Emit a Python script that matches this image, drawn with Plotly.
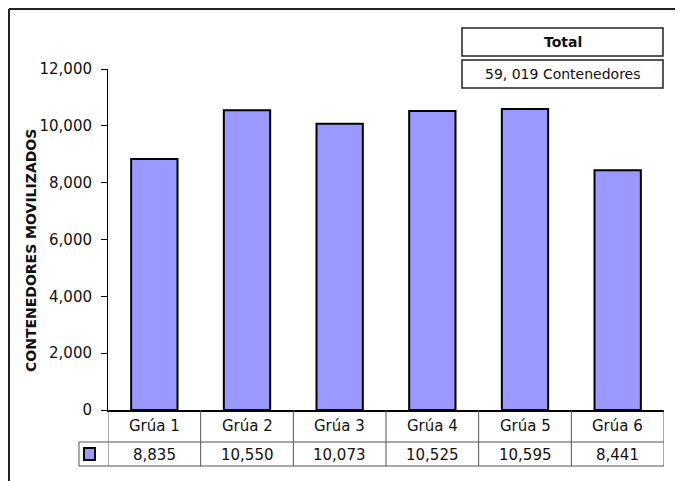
import plotly.graph_objects as go

categories = ["Grúa 1", "Grúa 2", "Grúa 3", "Grúa 4", "Grúa 5", "Grúa 6"]
values = [8835, 10550, 10073, 10525, 10595, 8441]
y_tickvals = [0, 2000, 4000, 6000, 8000, 10000, 12000]
y_title = "CONTENEDORES MOVILIZADOS"
total_title = "Total"
total_unit = "Contenedores"

OFF = 8  # default page body margin
W, H = 683 - OFF, 481 - OFF
L = 108 - OFF
T = 69 - OFF
R = W - (664 - OFF)
B = H - (410 - OFF)
PW, PH = W - L - R, H - T - B
FONT = "DejaVu Sans"
BAR = "#9999ff"


def px(xp):
    return (xp - OFF - L) / PW


def py(yp):
    return (H - B - (yp - OFF)) / PH


fig = go.Figure()
fig.add_trace(go.Bar(
    x=categories, y=values, width=0.5,
    marker=dict(color=BAR, line=dict(color="black", width=2)),
    showlegend=False, hoverinfo="x+y",
))

shapes = []
annotations = []
n = len(categories)

# outer border (top and left)
shapes.append(dict(type="line", xref="paper", yref="paper", x0=px(9), x1=1.1,
                   y0=py(9), y1=py(9), line=dict(color="#222", width=2)))
shapes.append(dict(type="line", xref="paper", yref="paper", x0=px(9), x1=px(9),
                   y0=py(9), y1=-0.4, line=dict(color="#222", width=2)))

# data table lines
tcol = "#555"
r1, r2 = py(442), py(466)
for yv in (r1, r2):
    shapes.append(dict(type="line", xref="paper", yref="paper", x0=px(79), x1=1,
                       y0=yv, y1=yv, line=dict(color=tcol, width=1)))
for i in range(n + 1):
    shapes.append(dict(type="line", xref="x", yref="paper", x0=i - 0.5, x1=i - 0.5,
                       y0=0, y1=r2, line=dict(color=tcol, width=1)))
shapes.append(dict(type="line", xref="paper", yref="paper", x0=px(79), x1=px(79),
                   y0=r1, y1=r2, line=dict(color=tcol, width=1)))
# legend key
shapes.append(dict(type="rect", xref="paper", yref="paper", x0=px(84), x1=px(95),
                   y0=py(448), y1=py(460), fillcolor=BAR,
                   line=dict(color="black", width=2)))

for c, v in zip(categories, values):
    annotations.append(dict(x=c, xref="x", y=py(426), yref="paper", text=c,
                            showarrow=False, font=dict(family=FONT, size=15, color="#111"),
                            xanchor="center", yanchor="middle"))
    annotations.append(dict(x=c, xref="x", y=py(455), yref="paper", text=f"{v:,}",
                            showarrow=False, font=dict(family=FONT, size=15, color="#111"),
                            xanchor="center", yanchor="middle"))

# y title
annotations.append(dict(x=px(31), y=py(251), xref="paper", yref="paper", text=f"<b>{y_title}</b>",
                        textangle=-90, showarrow=False,
                        font=dict(family=FONT, size=14, color="#111"),
                        xanchor="center", yanchor="middle"))

# total boxes
total = sum(values)
total_txt = f"{total:,}".replace(",", ", ") + " " + total_unit
shapes.append(dict(type="rect", xref="paper", yref="paper", x0=px(462), x1=px(663),
                   y0=py(56), y1=py(28), line=dict(color="#222", width=1.5)))
shapes.append(dict(type="rect", xref="paper", yref="paper", x0=px(462), x1=px(663),
                   y0=py(88), y1=py(60), line=dict(color="#222", width=1.5)))
annotations.append(dict(x=px(562.5), y=py(42), xref="paper", yref="paper",
                        text=f"<b>{total_title}</b>", showarrow=False,
                        font=dict(family=FONT, size=14, color="#111"),
                        xanchor="center", yanchor="middle"))
annotations.append(dict(x=px(562.5), y=py(74), xref="paper", yref="paper",
                        text=total_txt, showarrow=False,
                        font=dict(family=FONT, size=14, color="#111"),
                        xanchor="center", yanchor="middle"))

fig.update_layout(
    width=W, height=H,
    margin=dict(l=L, r=R, t=T, b=B, pad=0),
    paper_bgcolor="white", plot_bgcolor="white",
    font=dict(family=FONT, size=15, color="#111"),
    shapes=shapes, annotations=annotations,
    xaxis=dict(range=[-0.5, n - 0.5], showticklabels=False, ticks="",
               showline=True, linecolor="black", linewidth=1.5, showgrid=False,
               zeroline=False, fixedrange=True),
    yaxis=dict(range=[0, 12000], tickvals=y_tickvals, tickformat=",",
               ticks="outside", ticklen=6, tickcolor="black", tickwidth=1,
               showline=True, linecolor="black", linewidth=1, showgrid=False,
               zeroline=False, ticklabelstandoff=6,
               tickfont=dict(family=FONT, size=15, color="#111")),
    bargap=0.5,
)

fig.write_html("out.html")
